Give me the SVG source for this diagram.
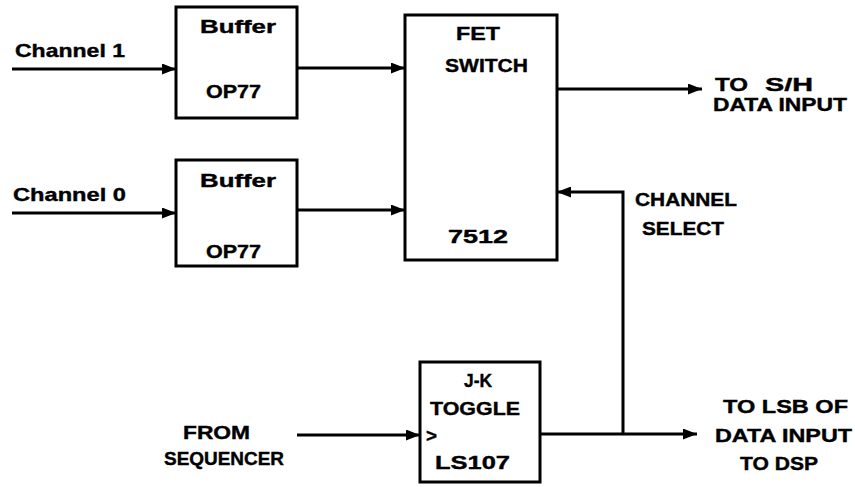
<svg xmlns="http://www.w3.org/2000/svg" width="855" height="487" viewBox="0 0 855 487">
<defs>
<style>
.box{fill:#fff;stroke:#000;stroke-width:3}
.ln{fill:none;stroke:#000;stroke-width:3;marker-end:url(#ah)}
text{font-family:"Liberation Sans",Arial,sans-serif;font-weight:bold;font-size:19px;fill:#000;stroke:#000;stroke-width:0.4}
</style>
<marker id="ah" markerUnits="userSpaceOnUse" viewBox="0 0 14 11" refX="14" refY="5.5" markerWidth="14" markerHeight="11" orient="auto">
<path d="M0,0 L14,5.5 L0,11 z" fill="#000"/>
</marker>
</defs>
<rect width="855" height="487" fill="#fff"/>
<g id="connectors">
<line class="ln" x1="12" y1="69" x2="176" y2="69"/>
<line class="ln" x1="12" y1="213" x2="176" y2="213"/>
<line class="ln" x1="297" y1="68" x2="405" y2="68"/>
<line class="ln" x1="297" y1="210" x2="405" y2="210"/>
<line class="ln" x1="557" y1="89" x2="702" y2="89"/>
<path class="ln" d="M623,434 V192 H557"/>
<line class="ln" x1="297" y1="435" x2="420" y2="435"/>
<line class="ln" x1="540" y1="434" x2="697" y2="434"/>
</g>
<g id="labels">
<text x="15" y="57" textLength="110" lengthAdjust="spacingAndGlyphs">Channel 1</text>
<text x="13" y="201" textLength="113" lengthAdjust="spacingAndGlyphs">Channel 0</text>
<text x="715" y="91" textLength="33" lengthAdjust="spacingAndGlyphs">TO</text>
<text x="765" y="91" textLength="48" lengthAdjust="spacingAndGlyphs">S/H</text>
<text x="713" y="111" textLength="134" lengthAdjust="spacingAndGlyphs">DATA INPUT</text>
<text x="635" y="206" textLength="102" lengthAdjust="spacingAndGlyphs">CHANNEL</text>
<text x="642" y="235" textLength="82" lengthAdjust="spacingAndGlyphs">SELECT</text>
<text x="183" y="439" textLength="67" lengthAdjust="spacingAndGlyphs">FROM</text>
<text x="164" y="465" textLength="120" lengthAdjust="spacingAndGlyphs">SEQUENCER</text>
<text x="723" y="413" textLength="125" lengthAdjust="spacingAndGlyphs">TO  LSB OF</text>
<text x="715" y="442" textLength="137" lengthAdjust="spacingAndGlyphs">DATA INPUT</text>
<text x="740" y="470" textLength="78" lengthAdjust="spacingAndGlyphs">TO DSP</text>
</g>
<g id="buffer1">
<rect class="box" x="176" y="7" width="121" height="111"/>
<text x="200" y="33" textLength="76" lengthAdjust="spacingAndGlyphs">Buffer</text>
<text x="206" y="98" textLength="55" lengthAdjust="spacingAndGlyphs">OP77</text>
</g>
<g id="buffer0">
<rect class="box" x="176" y="160" width="121" height="106"/>
<text x="200" y="187" textLength="76" lengthAdjust="spacingAndGlyphs">Buffer</text>
<text x="206" y="258" textLength="55" lengthAdjust="spacingAndGlyphs">OP77</text>
</g>
<g id="fet">
<rect class="box" x="405" y="15" width="152" height="245"/>
<text x="456" y="40" textLength="44" lengthAdjust="spacingAndGlyphs">FET</text>
<text x="445" y="72" textLength="83" lengthAdjust="spacingAndGlyphs">SWITCH</text>
<text x="448" y="243" textLength="60" lengthAdjust="spacingAndGlyphs">7512</text>
</g>
<g id="jk">
<rect class="box" x="420" y="362" width="120" height="120"/>
<text x="464" y="387" textLength="28" lengthAdjust="spacingAndGlyphs">J-K</text>
<text x="430" y="415" textLength="90" lengthAdjust="spacingAndGlyphs">TOGGLE</text>
<text x="426" y="442" textLength="11" lengthAdjust="spacingAndGlyphs">&gt;</text>
<text x="435" y="469" textLength="75" lengthAdjust="spacingAndGlyphs">LS107</text>
</g>
</svg>
